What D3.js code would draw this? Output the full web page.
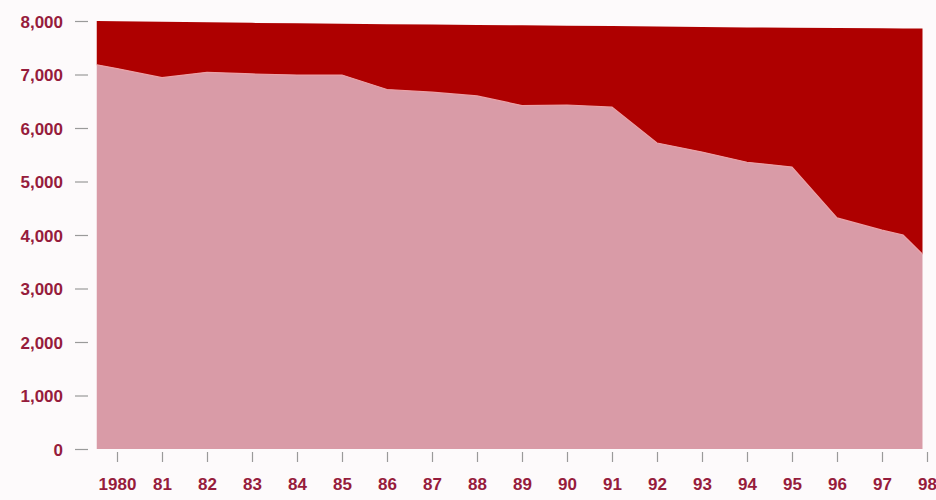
<!DOCTYPE html>
<html>
<head>
<meta charset="utf-8">
<script src="https://cdn.jsdelivr.net/npm/d3@7"></script>
<style>
  html, body { margin: 0; padding: 0; background: #fdfafb; }
  svg { display: block; }
  .lbl { font-family: "Liberation Sans", Arial, sans-serif; font-weight: bold; font-size: 17px; fill: #961c3c; }
</style>
</head>
<body>
<div id="chart"></div>
<script>
// years (the first and last entries are where the area meets the plot edges)
const years = [1979.55, 1980, 1981, 1982, 1983, 1984, 1985, 1986, 1987, 1988, 1989,
  1990, 1991, 1992, 1993, 1994, 1995, 1996, 1997, 1997.47, 1997.9];
// lower (light) series
const lowerValues = [7180, 7110, 6940, 7040, 7010, 6990, 6990, 6720, 6670, 6600, 6420,
  6430, 6390, 5720, 5550, 5360, 5270, 4320, 4090, 4000, 3640];
// top of the dark band (total)
const totalValues = [8000, 7995, 7985, 7975, 7965, 7960, 7950, 7940, 7935, 7925, 7920,
  7910, 7905, 7895, 7890, 7880, 7875, 7870, 7865, 7862, 7860];
const tickYears = d3.range(1980, 1999);
const tickNames = ['1980', '81', '82', '83', '84', '85', '86', '87', '88', '89',
  '90', '91', '92', '93', '94', '95', '96', '97', '98'];
const yTicks = [0, 1000, 2000, 3000, 4000, 5000, 6000, 7000, 8000];

const width = 936, height = 500;

const data = years.map((yr, i) => ({
  year: yr,
  lower: lowerValues[i],
  upper: totalValues[i] - lowerValues[i]
}));

const x = d3.scaleLinear().domain([1980, 1998]).range([117, 927]);
const y = d3.scaleLinear().domain([0, 8000]).range([449, 21]);

const stacked = d3.stack().keys(['lower', 'upper'])(data);
const colors = { lower: '#d99ba7', upper: '#ae0000' };

const svg = d3.select('#chart').append('svg')
  .attr('width', width)
  .attr('height', height);

const area = d3.area()
  .x((d) => x(d.data.year))
  .y0((d) => y(d[0]))
  .y1((d) => y(d[1]));

svg.selectAll('.layer')
  .data(stacked)
  .enter()
  .append('path')
  .attr('class', 'layer')
  .attr('fill', (d) => colors[d.key])
  .attr('d', area);

// thin light edge between the two bands
svg.append('path')
  .datum(data)
  .attr('fill', 'none')
  .attr('stroke', '#eca2a8')
  .attr('stroke-width', 1.2)
  .attr('d', d3.line().x((d) => x(d.year)).y((d) => y(d.lower)));

// y axis: short ticks + labels, no domain line
const yAxis = svg.append('g')
  .attr('transform', 'translate(88,0)')
  .call(d3.axisLeft(y).tickValues(yTicks).tickSize(13).tickPadding(12).tickFormat(d3.format(',')));
yAxis.select('.domain').remove();
yAxis.selectAll('line').attr('stroke', '#9a9a9a').attr('stroke-width', 1.2);
yAxis.selectAll('text').attr('class', 'lbl').attr('fill', null).attr('dy', '0.36em');

// x axis
const xAxis = svg.append('g')
  .attr('transform', 'translate(0,452)')
  .call(d3.axisBottom(x).tickValues(tickYears).tickSize(10).tickPadding(16)
    .tickFormat((d, i) => tickNames[i]));
xAxis.select('.domain').remove();
xAxis.selectAll('line').attr('stroke', '#9a9a9a').attr('stroke-width', 1.2);
xAxis.selectAll('text').attr('class', 'lbl').attr('fill', null);
</script>
</body>
</html>
